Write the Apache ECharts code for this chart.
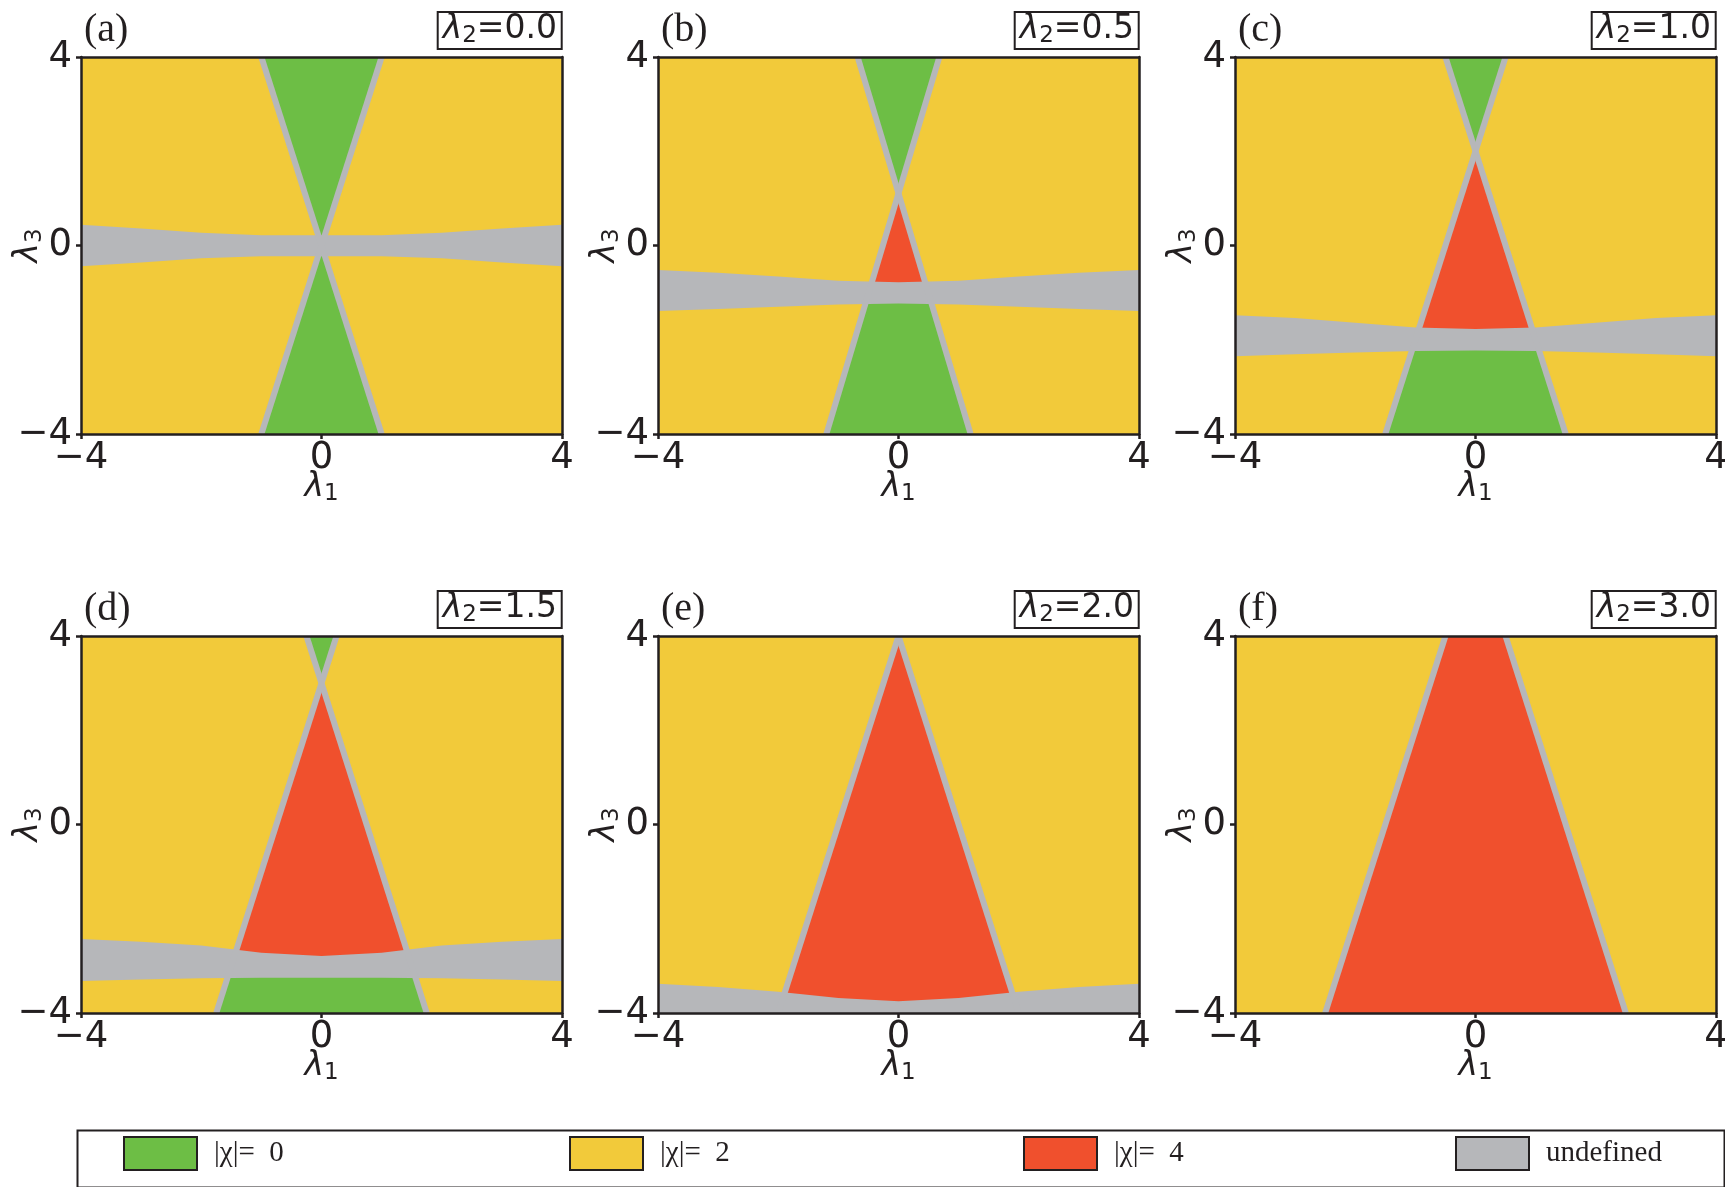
<!DOCTYPE html>
<html>
<head>
<meta charset="utf-8">
<script src="https://cdn.jsdelivr.net/npm/echarts@6/dist/echarts.min.js"></script>
<style>
  html, body { margin: 0; padding: 0; background: #fff; }
  #chart { width: 1725px; height: 1187px; }
</style>
</head>
<body>
<div id="chart"></div>
<script>
// panel captions
const panelTags = ['(a)', '(b)', '(c)', '(d)', '(e)', '(f)'];
const lambda2Values = ['0.0', '0.5', '1.0', '1.5', '2.0', '3.0'];
const legendNames = ['|\u03c7|=  0', '|\u03c7|=  2', '|\u03c7|=  4', 'undefined'];

// |χ| = 2 fills the whole plane, the other regions are laid over it
const yellowRegion = [[-4, -4], [4, -4], [4, 4], [-4, 4]];

// |χ| = 0 regions as (λ1, λ3) vertices
const greenRegions = [
  [[[-1, 4], [1, 4], [0, 0]], [[0, 0], [1, -4], [-1, -4]]],
  [[[-0.68, 4], [0.68, 4], [0, 1.05]], [[-0.5, -1], [0.5, -1], [1.2, -4], [-1.2, -4]]],
  [[[-0.5, 4], [0.5, 4], [0, 2]], [[-1, -2], [1, -2], [1.5, -4], [-1.5, -4]]],
  [[[-0.25, 4], [0.25, 4], [0, 3]], [[-1.5, -3], [1.5, -3], [1.75, -4], [-1.75, -4]]],
  [],
  []
];

// |χ| = 4 regions
const redRegions = [
  [],
  [[[0, 1.05], [0.5, -1], [-0.5, -1]]],
  [[[0, 2], [1, -2], [-1, -2]]],
  [[[0, 3], [1.5, -3], [-1.5, -3]]],
  [[[0, 4], [2, -4], [-2, -4]]],
  [[[-0.5, 4], [0.5, 4], [2.5, -4], [-2.5, -4]]]
];

// gray phase boundaries (two straight lines per panel)
const boundaryLines = [
  [[[-1, 4], [1, -4]], [[1, 4], [-1, -4]]],
  [[[-0.68, 4], [1.2, -4]], [[0.68, 4], [-1.2, -4]]],
  [[[-0.5, 4], [1.5, -4]], [[0.5, 4], [-1.5, -4]]],
  [[[-0.25, 4], [1.75, -4]], [[0.25, 4], [-1.75, -4]]],
  [[[0, 4], [2, -4]], [[0, 4], [-2, -4]]],
  [[[0.5, 4], [2.5, -4]], [[-0.5, 4], [-2.5, -4]]]
];

// undefined band: upper / lower edge λ3 at each λ1 of bandL1
const bandL1 = [-4, -3, -2, -1, 0, 1, 2, 3, 4];
const bandUpper = [
  [0.44, 0.36, 0.27, 0.22, 0.22, 0.22, 0.27, 0.36, 0.44],
  [-0.52, -0.58, -0.66, -0.75, -0.78, -0.75, -0.66, -0.58, -0.52],
  [-1.48, -1.54, -1.64, -1.74, -1.77, -1.74, -1.64, -1.54, -1.48],
  [-2.43, -2.49, -2.57, -2.72, -2.79, -2.72, -2.57, -2.49, -2.43],
  [-3.38, -3.45, -3.55, -3.68, -3.75, -3.68, -3.55, -3.45, -3.38],
  null
];
const bandLower = [
  [-0.44, -0.36, -0.27, -0.23, -0.23, -0.23, -0.27, -0.36, -0.44],
  [-1.39, -1.35, -1.30, -1.25, -1.23, -1.25, -1.30, -1.35, -1.39],
  [-2.35, -2.31, -2.27, -2.24, -2.23, -2.24, -2.27, -2.31, -2.35],
  [-3.32, -3.29, -3.26, -3.25, -3.25, -3.25, -3.26, -3.29, -3.32],
  [-4, -4, -4, -4, -4, -4, -4, -4, -4],
  null
];

const INK = '#231f20';
const GREEN = '#6dbe45';
const YELLOW = '#f2ca3a';
const RED = '#f0502d';
const GRAY = '#b6b7ba';

const colLeft = [81, 658, 1235];
const rowTop = [57, 636];
const plotW = 481;
const plotH = 377;

const chart = echarts.init(document.getElementById('chart'), null, { renderer: 'canvas' });

const sansFont = '"DejaVu Sans", sans-serif';
const serifFont = '"Liberation Serif", "Times New Roman", serif';

function lambdaRich(size) {
  return {
    l: { fontFamily: sansFont, fontStyle: 'italic', fontWeight: 'normal', fontSize: size, color: INK },
    s: { fontFamily: sansFont, fontWeight: 'normal', fontSize: Math.round(size * 0.7), color: INK,
         padding: [Math.round(size * 0.45), 0, 0, 0] },
    t: { fontFamily: sansFont, fontWeight: 'normal', fontSize: size, color: INK }
  };
}

function tickText(v) {
  return String(v).replace('-', '\u2212');
}

// one custom series per colour; polygons and lines go through api.coord
function regionSeries(i, name, color, polys, lines) {
  const shapes = polys.map(p => ({ kind: 'poly', pts: p }))
    .concat((lines || []).map(l => ({ kind: 'line', pts: l })));
  return {
    type: 'custom',
    name: name,
    xAxisIndex: i * 2,
    yAxisIndex: i * 2,
    clip: true,
    silent: true,
    itemStyle: { color: color },
    data: shapes.map((_, k) => [k, 0]),
    renderItem: function (params, api) {
      const s = shapes[api.value(0)];
      const points = s.pts.map(p => api.coord(p));
      if (s.kind === 'line') {
        return { type: 'polyline', shape: { points: points }, style: { stroke: color, lineWidth: 6, fill: null } };
      }
      return { type: 'polygon', shape: { points: points }, style: { fill: color } };
    }
  };
}

const grids = [], xAxes = [], yAxes = [], series = [], titles = [];

for (let i = 0; i < 6; i++) {
  const col = i % 3, row = Math.floor(i / 3);
  const left = colLeft[col], top = rowTop[row];
  grids.push({
    left: left, top: top, width: plotW, height: plotH,
    containLabel: false, outerBoundsMode: 'none'
  });

  const frame = { show: true, onZero: false, lineStyle: { color: INK, width: 2.5 } };
  const ticks = { show: true, length: 5, lineStyle: { color: INK, width: 2.5 } };
  const labels = { fontFamily: sansFont, fontSize: 37, color: INK, formatter: tickText, hideOverlap: false };

  xAxes.push({
    gridIndex: i, type: 'value', min: -4, max: 4, interval: 4, position: 'bottom', z: 5,
    axisLine: frame, axisTick: ticks, splitLine: { show: false },
    axisLabel: Object.assign({ margin: 6 }, labels),
    name: '{l|\u03bb}{s|1}', nameLocation: 'middle', nameGap: 34, nameMoveOverlap: false,
    nameTextStyle: { rich: lambdaRich(33) }
  });
  xAxes.push({
    gridIndex: i, type: 'value', min: -4, max: 4, interval: 4, position: 'top', z: 5,
    axisLine: frame, axisTick: { show: false }, axisLabel: { show: false }, splitLine: { show: false }
  });
  yAxes.push({
    gridIndex: i, type: 'value', min: -4, max: 4, interval: 4, position: 'left', z: 5,
    axisLine: frame, axisTick: ticks, splitLine: { show: false },
    axisLabel: Object.assign({ margin: 9 }, labels),
    name: '{l|\u03bb}{s|3}', nameLocation: 'middle', nameGap: 34, nameRotate: 90, nameMoveOverlap: false,
    nameTextStyle: { rich: lambdaRich(33) }
  });
  yAxes.push({
    gridIndex: i, type: 'value', min: -4, max: 4, interval: 4, position: 'right', z: 5,
    axisLine: frame, axisTick: { show: false }, axisLabel: { show: false }, splitLine: { show: false }
  });

  let band = [];
  if (bandUpper[i]) {
    const upper = bandL1.map((x, k) => [x, bandUpper[i][k]]);
    const lower = bandL1.map((x, k) => [x, bandLower[i][k]]).reverse();
    band = [upper.concat(lower)];
  }

  series.push(regionSeries(i, legendNames[1], YELLOW, [yellowRegion]));
  series.push(regionSeries(i, legendNames[0], GREEN, greenRegions[i]));
  series.push(regionSeries(i, legendNames[2], RED, redRegions[i]));
  series.push(regionSeries(i, legendNames[3], GRAY, band, boundaryLines[i]));

  titles.push({
    text: panelTags[i], left: left + 3, top: top - 47, padding: 0,
    textStyle: { fontFamily: serifFont, fontSize: 40, fontWeight: 'normal', color: INK }
  });
  titles.push({
    text: '{l|\u03bb}{s|2}{t|=' + lambda2Values[i] + '}',
    right: 1725 - (left + plotW), top: top - 48,
    borderColor: INK, borderWidth: 2, padding: [1, 5, 1, 5],
    textStyle: { fontWeight: 'normal', rich: lambdaRich(33) }
  });
}

const legendLeft = [123, 569, 1023, 1455];
const legends = legendNames.map((n, k) => ({
  data: [n], left: legendLeft[k], top: 1136, padding: 0, orient: 'horizontal',
  icon: 'rect', itemWidth: 73, itemHeight: 33, selectedMode: false,
  itemStyle: { borderColor: INK, borderWidth: 2 },
  textStyle: { fontFamily: serifFont, fontSize: 29, color: INK, padding: [0, 0, 0, 12] }
}));

chart.setOption({
  animation: false,
  backgroundColor: '#fff',
  title: titles,
  grid: grids,
  xAxis: xAxes,
  yAxis: yAxes,
  legend: legends,
  graphic: [{
    type: 'rect', left: 75, top: 1128, z: 0,
    shape: { width: 1647, height: 57 },
    style: { fill: 'none', stroke: INK, lineWidth: 2 }
  }],
  series: series
});
</script>
</body>
</html>
